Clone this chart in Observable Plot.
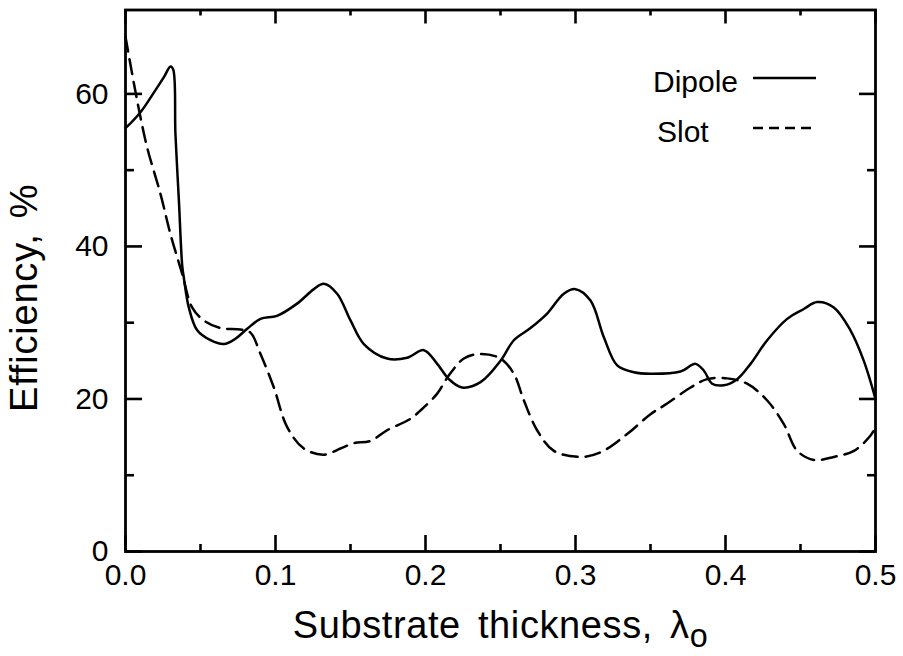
<!DOCTYPE html>
<html>
<head>
<meta charset="utf-8">
<script src="https://cdn.jsdelivr.net/npm/d3@7"></script>
<script src="https://cdn.jsdelivr.net/npm/@observablehq/plot@0.6"></script>
<style>
  html, body { margin: 0; padding: 0; background: white; }
</style>
</head>
<body>
<div id="chart"></div>
<script>
// ---- data ----
const dipoleT = [0, 0.01, 0.019, 0.0256, 0.03, 0.0318, 0.0333, 0.0356, 0.0378, 0.0389, 0.0422, 0.0478, 0.0567, 0.0656, 0.0733, 0.0811, 0.09, 0.101, 0.1144, 0.1256, 0.1322, 0.1411, 0.15, 0.1589, 0.1744, 0.1878, 0.1989, 0.2078, 0.2156, 0.2244, 0.2367, 0.25, 0.2589, 0.27, 0.2811, 0.2922, 0.30, 0.31, 0.3189, 0.3278, 0.3389, 0.35, 0.37, 0.38, 0.3856, 0.3911, 0.3989, 0.4078, 0.4167, 0.4278, 0.4411, 0.4522, 0.4611, 0.4722, 0.4833, 0.4922, 0.5];
const dipoleV = [55.5, 57.6, 60.2, 62.2, 63.6, 63.2, 54.7, 46.0, 37.5, 35.9, 32.0, 29.0, 27.7, 27.2, 27.9, 29.2, 30.5, 30.9, 32.5, 34.4, 35.1, 33.8, 30.3, 27.2, 25.3, 25.4, 26.4, 24.6, 22.6, 21.5, 22.2, 25.0, 27.7, 29.3, 31.2, 33.8, 34.4, 32.9, 28.1, 24.4, 23.5, 23.3, 23.6, 24.6, 23.7, 22.0, 21.8, 22.6, 24.6, 27.7, 30.5, 31.8, 32.7, 32.0, 29.0, 25.0, 20.0];

const slotT = [0, 0.0078, 0.0144, 0.0233, 0.03, 0.0378, 0.0444, 0.0522, 0.0633, 0.0767, 0.0833, 0.09, 0.0989, 0.1078, 0.1189, 0.1322, 0.1433, 0.1522, 0.1633, 0.1744, 0.19, 0.1967, 0.2078, 0.2156, 0.2256, 0.2367, 0.25, 0.2589, 0.2656, 0.2744, 0.2856, 0.3033, 0.3167, 0.3344, 0.35, 0.3611, 0.3767, 0.3878, 0.4011, 0.4144, 0.4278, 0.4389, 0.4478, 0.4589, 0.4722, 0.4856, 0.4967, 0.5];
const slotV = [67.5, 59.1, 53.0, 46.9, 41.6, 36.4, 32.0, 30.3, 29.3, 29.1, 28.7, 25.9, 21.5, 16.3, 13.5, 12.7, 13.5, 14.2, 14.5, 15.9, 17.4, 18.5, 20.7, 23.1, 25.3, 25.9, 25.3, 23.3, 19.8, 15.9, 13.2, 12.4, 13.0, 15.4, 18.0, 19.4, 21.5, 22.6, 22.7, 22.0, 19.8, 16.7, 13.2, 12.0, 12.4, 13.2, 15.2, 16.3];

const seriesNames = ["Dipole", "Slot"];
const xMajor = [0, 0.1, 0.2, 0.3, 0.4, 0.5];
const xMinor = [0.05, 0.15, 0.25, 0.35, 0.45];
const xTickLabels = ["0.0", "0.1", "0.2", "0.3", "0.4", "0.5"];
const yMajor = [0, 20, 40, 60];
const yMinor = [10, 30, 50];
const yTickLabels = ["0", "20", "40", "60"];
const xTitle = "Substrate thickness, λ";
const xTitleSub = "o";
const yTitle = "Efficiency, %";

// ---- build ----
const dipole = dipoleT.map((t, i) => ({t, v: dipoleV[i]}));
const slot = slotT.map((t, i) => ({t, v: slotV[i]}));
const xLab = new Map(xMajor.map((d, i) => [d, xTickLabels[i]]));
const yLab = new Map(yMajor.map((d, i) => [d, yTickLabels[i]]));

const W = 903, H = 656;
const mL = 125, mR = 28, mT = 9.5, mB = 105;
const fw = W - mL - mR, fh = H - mT - mB;
const xDom = [0, 0.5], yDom = [0, 71];
const font = "Liberation Sans, Arial, sans-serif";
const tk = {stroke: "black", strokeWidth: 2.6};

const plot = Plot.plot({
  width: W,
  height: H,
  marginLeft: mL,
  marginRight: mR,
  marginTop: mT,
  marginBottom: mB,
  style: {fontFamily: font, color: "black", background: "white", overflow: "visible"},
  x: {domain: xDom, axis: null},
  y: {domain: yDom, axis: null},
  marks: [
    // inward ticks: left / right  (tick length in px via insets)
    Plot.tickY(yMajor, {y: d => d, insetRight: fw - 17, ...tk}),
    Plot.tickY(yMinor, {y: d => d, insetRight: fw - 9, ...tk}),
    Plot.tickY(yMajor, {y: d => d, insetLeft: fw - 16, ...tk}),
    Plot.tickY(yMinor, {y: d => d, insetLeft: fw - 8, ...tk}),
    // inward ticks: bottom / top
    Plot.tickX(xMajor, {x: d => d, insetTop: fh - 16, ...tk}),
    Plot.tickX(xMinor, {x: d => d, insetTop: fh - 7, ...tk}),
    Plot.tickX(xMajor, {x: d => d, insetBottom: fh - 14, ...tk}),
    Plot.tickX(xMinor, {x: d => d, insetBottom: fh - 6, ...tk}),
    Plot.frame({stroke: "black", strokeWidth: 2.8}),
    // tick labels
    Plot.axisX(xMajor, {anchor: "bottom", tickSize: 0, tickPadding: 12, tickFormat: d => xLab.get(d), fontSize: 30, label: null}),
    Plot.axisY(yMajor, {anchor: "left", tickSize: 0, tickPadding: 17, tickFormat: d => yLab.get(d), fontSize: 30, label: null}),
    // curves
    Plot.line(dipole, {x: "t", y: "v", curve: "catmull-rom", stroke: "black", strokeWidth: 2.5}),
    Plot.line(slot, {x: "t", y: "v", curve: "catmull-rom", stroke: "black", strokeWidth: 2.5, strokeDasharray: "15,8"}),
    // titles
    Plot.text([xTitle], {frameAnchor: "bottom", dy: 86, fontSize: 38, text: d => d, lineAnchor: "bottom", fill: "black"}),
    Plot.text([yTitle], {frameAnchor: "left", textAnchor: "middle", dx: -101, dy: 17, rotate: -90, fontSize: 38, text: d => d, fill: "black"})
  ]
});

const svg = d3.select(plot);
// subscript and letter spacing on titles
svg.selectAll("text").filter(function () { return this.textContent === xTitle; })
  .attr("letter-spacing", "0.6px").attr("word-spacing", "6px")
  .append("tspan").attr("dy", "0.3em").attr("font-size", "0.85em").text(xTitleSub);
svg.selectAll("text").filter(function () { return this.textContent === yTitle; })
  .attr("letter-spacing", "0.8px").attr("word-spacing", "4px");

// legend
const leg = svg.append("g").attr("font-family", font).attr("font-size", 30)
  .attr("fill", "black").attr("text-anchor", "start");
const legDash = [null, "10,6"];
seriesNames.forEach((name, i) => {
  const base = 92 + i * 50;
  leg.append("text").attr("x", 653 + i * 4).attr("y", base).text(name);
  leg.append("line").attr("x1", 753).attr("x2", 816)
    .attr("y1", base - 14).attr("y2", base - 14)
    .attr("stroke", "black").attr("stroke-width", 2.4)
    .attr("stroke-dasharray", legDash[i]);
});

document.getElementById("chart").appendChild(plot);
</script>
</body>
</html>
